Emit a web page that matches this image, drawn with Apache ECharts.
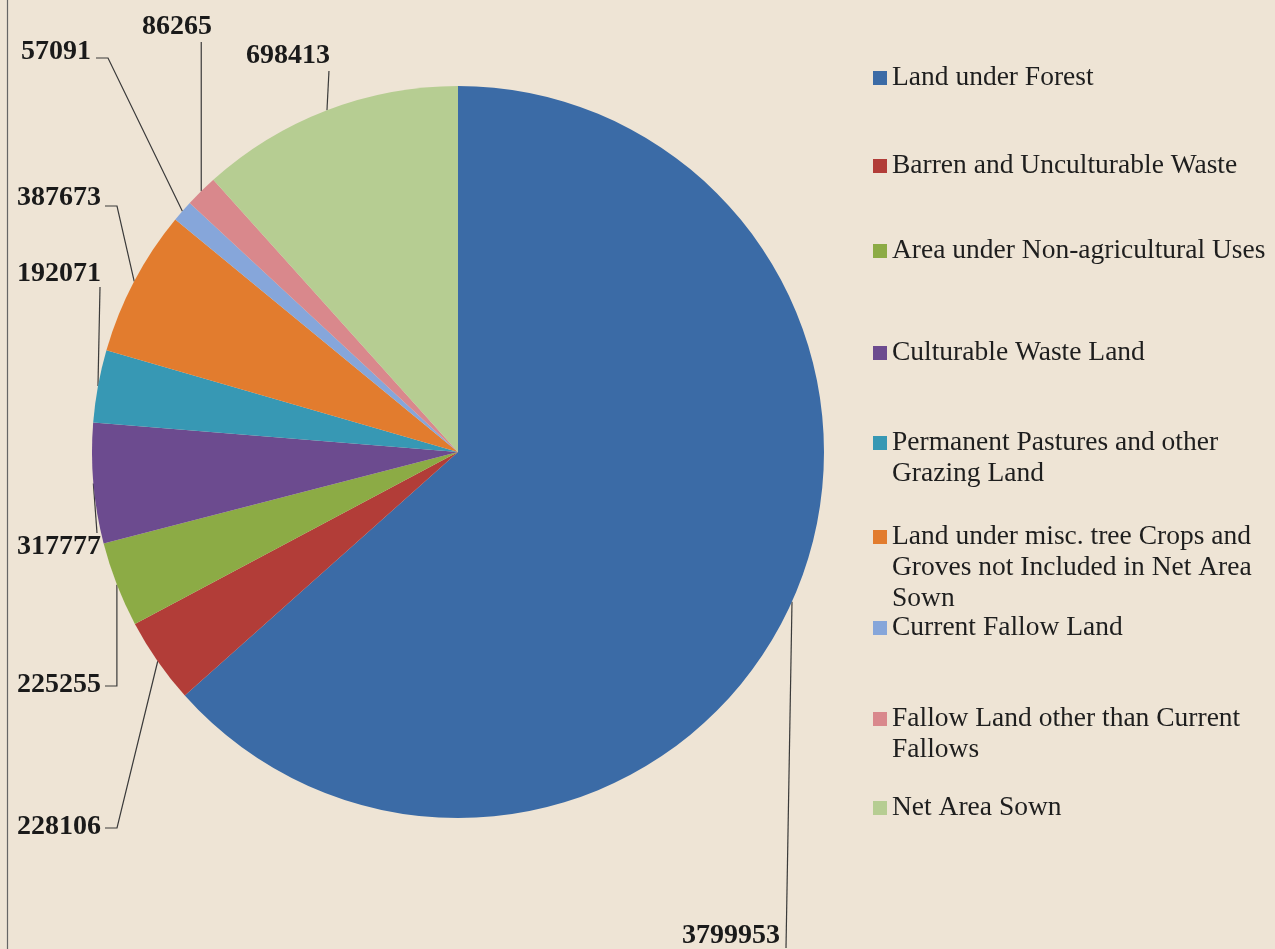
<!DOCTYPE html>
<html>
<head>
<meta charset="utf-8">
<script src="https://cdn.jsdelivr.net/npm/echarts/dist/echarts.min.js"></script>
<style>
html,body{margin:0;padding:0;background:#EEE4D5;}
#c{width:1275px;height:949px;}
</style>
</head>
<body>
<div id="c"></div>
<script>
// ---- data ----
const categories = [
  'Land under Forest',
  'Barren and Unculturable Waste',
  'Area under Non-agricultural Uses',
  'Culturable Waste Land',
  'Permanent Pastures and other Grazing Land',
  'Land under misc. tree Crops and Groves not Included in Net Area Sown',
  'Current Fallow Land',
  'Fallow Land other than Current Fallows',
  'Net Area Sown'
];
const values = [3799953, 228106, 225255, 317777, 192071, 387673, 57091, 86265, 698413];
const colors = ['#3B6BA6', '#B23D38', '#8CAB45', '#6C4B8F', '#3798B4', '#E27C2E', '#86A6DA', '#D9888C', '#B6CD92'];

// ---- layout (label placement & leader line elbows) ----
const labelSpec = [
  {x: 780, y: 936, align: 'right',  line: a => [[786, 948]]},
  {x: 101, y: 827, align: 'right',  line: a => [[117, 828], [105, 828]]},
  {x: 101, y: 685, align: 'right',  line: a => [[a[0], 686], [105, 686]]},
  {x: 101, y: 547, align: 'right',  line: a => [[97, 533]]},
  {x: 101, y: 274, align: 'right',  line: a => [[100, 287]]},
  {x: 101, y: 198, align: 'right',  line: a => [[117, 206], [105, 206]]},
  {x: 91,  y: 52,  align: 'right',  line: a => [[108, 58], [96, 58]]},
  {x: 177, y: 27,  align: 'center', line: a => [[a[0], 42]]},
  {x: 288, y: 56,  align: 'center', line: a => [[a[0] + 2, 71]]}
];
const legendCenters = [78, 166, 251, 353, 443, 537, 628, 719, 808];
const legendLines = [1, 1, 1, 1, 2, 3, 1, 2, 1];
const LH = 31;

const chart = echarts.init(document.getElementById('c'), null, {renderer: 'canvas'});

const legends = categories.map((name, i) => {
  const n = legendLines[i];
  return {
    data: [name],
    orient: 'vertical',
    left: 873,
    top: legendCenters[i] - (2 * n - 1) * LH / 2,
    padding: 0,
    itemWidth: 14,
    itemHeight: 14,
    icon: 'rect',
    selectedMode: false,
    formatter: function (nm) {
      // prepend empty lines so the icon lines up with the first text line
      let s = '';
      for (let k = 1; k < n; k++) s += ' \n';
      return s + nm;
    },
    textStyle: {
      fontFamily: 'Liberation Serif',
      fontSize: 27.5,
      color: '#1e1e1e',
      lineHeight: LH,
      width: 390,
      overflow: 'break'
    }
  };
});

chart.setOption({
  backgroundColor: '#EEE4D5',
  animation: false,
  legend: legends,
  graphic: [{
    type: 'line',
    shape: {x1: 7.5, y1: 0, x2: 7.5, y2: 949},
    style: {stroke: '#666', lineWidth: 1.2}
  }],
  series: [{
    type: 'pie',
    center: [458, 452],
    radius: 366,
    startAngle: 90,
    clockwise: true,
    avoidLabelOverlap: false,
    emphasis: {scale: false},
    itemStyle: {borderWidth: 0},
    label: {
      show: true,
      position: 'outside',
      formatter: '{c}',
      fontFamily: 'Liberation Serif',
      fontWeight: 'bold',
      fontSize: 28,
      color: '#1a1a1a'
    },
    labelLine: {
      show: true,
      length: 10,
      length2: 10,
      lineStyle: {color: '#3a3a3a', width: 1.2}
    },
    labelLayout: function (p) {
      const s = labelSpec[p.dataIndex];
      const a = p.labelLinePoints && p.labelLinePoints[0];
      const res = {x: s.x, y: s.y, align: s.align, verticalAlign: 'middle'};
      if (a) res.labelLinePoints = [a].concat(s.line(a));
      return res;
    },
    data: categories.map((name, i) => ({
      name: name,
      value: values[i],
      itemStyle: {color: colors[i]}
    }))
  }]
});
</script>
</body>
</html>
